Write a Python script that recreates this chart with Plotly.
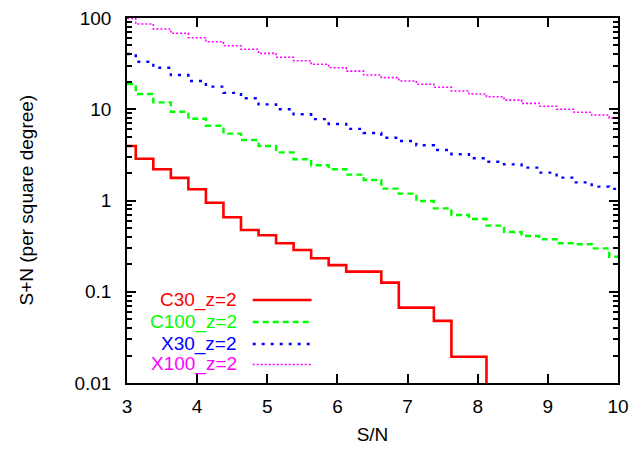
import plotly.graph_objects as go

# ---- data ----
sn = [3.0, 3.25, 3.5, 3.75, 4.0, 4.25, 4.5, 4.75, 5.0, 5.25, 5.5, 5.75, 6.0, 6.25,
      6.5, 6.75, 7.0, 7.25, 7.5, 7.75, 8.0, 8.25, 8.5, 8.75, 9.0, 9.25, 9.5, 9.75, 10.0]

c30 = [3.96, 2.87, 2.2, 1.77, 1.33, 0.946, 0.655, 0.475, 0.416, 0.34, 0.287, 0.233,
       0.196, 0.166, 0.166, 0.126, 0.067, 0.067, 0.048, 0.0194, 0.0194, 0.005]
c100 = [18.9, 14.7, 11.9, 9.4, 7.87, 6.6, 5.4, 4.6, 3.96, 3.37, 2.83, 2.43, 2.2, 1.92,
        1.68, 1.35, 1.19, 0.988, 0.82, 0.694, 0.627, 0.53, 0.452, 0.408, 0.376, 0.34,
        0.331, 0.299, 0.242]
x30 = [40.3, 33.2, 28.5, 23.7, 20.4, 17.7, 15.1, 13.2, 11.3, 10.0, 8.8, 7.8, 6.9, 6.1,
       5.5, 4.88, 4.49, 4.03, 3.58, 3.21, 2.9, 2.66, 2.49, 2.29, 2.02, 1.78, 1.58, 1.42,
       1.34]
x100 = [99.0, 86.0, 75.8, 68.0, 60.8, 55.0, 49.7, 45.4, 41.0, 37.1, 34.0, 31.1, 28.5,
        26.2, 23.7, 22.2, 20.4, 18.8, 17.4, 15.85, 14.7, 13.7, 12.6, 11.6, 10.8, 10.0,
        9.26, 8.65, 8.0]

names = ["C30_z=2", "C100_z=2", "X30_z=2", "X100_z=2"]
series = [c30, c100, x30, x100]
colors = ["#ff0000", "#00ff00", "#0000ff", "#ff00ff"]
dashes = ["solid", "6px,4px", "3px,6px", "2px,2px"]
widths = [2.6, 2.4, 2.4, 1.6]

ytick_vals = [0.01, 0.1, 1, 10, 100]
ytick_text = ["0.01", "0.1", "1", "10", "100"]
xtick_vals = [3, 4, 5, 6, 7, 8, 9, 10]

x_title = "S/N"
y_title = "S+N (per square degree)"

FONT = "Liberation Sans, Arial, Helvetica, sans-serif"
FS = 19

fig = go.Figure()
for nm, ys, col, ds, w in zip(names, series, colors, dashes, widths):
    fig.add_trace(go.Scatter(
        x=sn[:len(ys)], y=ys, name=nm, mode="lines",
        line=dict(color=col, dash=ds, width=w, shape="hvh"),
        showlegend=False,
    ))

# legend drawn gnuplot-style: text right-aligned, sample line to its right
leg_y = [0.2274, 0.167, 0.1068, 0.0507]
for nm, col, ds, w, yy in zip(names, colors, dashes, widths, leg_y):
    fig.add_annotation(x=0.228, y=yy, xref="paper", yref="paper", text=nm,
                       showarrow=False, xanchor="right", yanchor="middle",
                       font=dict(family=FONT, size=FS, color=col))
    fig.add_shape(type="line", xref="paper", yref="paper",
                  x0=0.256, x1=0.376, y0=yy, y1=yy,
                  line=dict(color=col, dash=ds, width=w))

# y-axis title placed like gnuplot's
fig.add_annotation(x=-0.2057, y=0.5, xref="paper", yref="paper", text=y_title,
                   textangle=-90, showarrow=False, xanchor="center", yanchor="middle",
                   font=dict(family=FONT, size=FS, color="black"))

axis_common = dict(
    showgrid=False, zeroline=False, showline=True, linecolor="black", linewidth=1.5,
    mirror="allticks", ticks="inside", ticklen=9, tickwidth=1.5, tickcolor="black",
    tickfont=dict(family=FONT, size=FS, color="black"), automargin=False,
)

fig.update_layout(
    width=636, height=449,
    margin=dict(l=127, r=18, t=18, b=66, autoexpand=False),
    paper_bgcolor="white", plot_bgcolor="white",
    xaxis=dict(range=[3, 10], tickvals=xtick_vals, ticklabelstandoff=5,
               title=dict(text=x_title, font=dict(family=FONT, size=FS, color="black"),
                          standoff=12),
               **axis_common),
    yaxis=dict(type="log", range=[-2, 2], tickvals=ytick_vals, ticktext=ytick_text,
               ticklabelstandoff=10,
               minor=dict(ticks="inside", ticklen=5, tickwidth=1.5, tickcolor="black",
                          dtick="D1", showgrid=False),
               **axis_common),
)

fig.write_html("out.html")
